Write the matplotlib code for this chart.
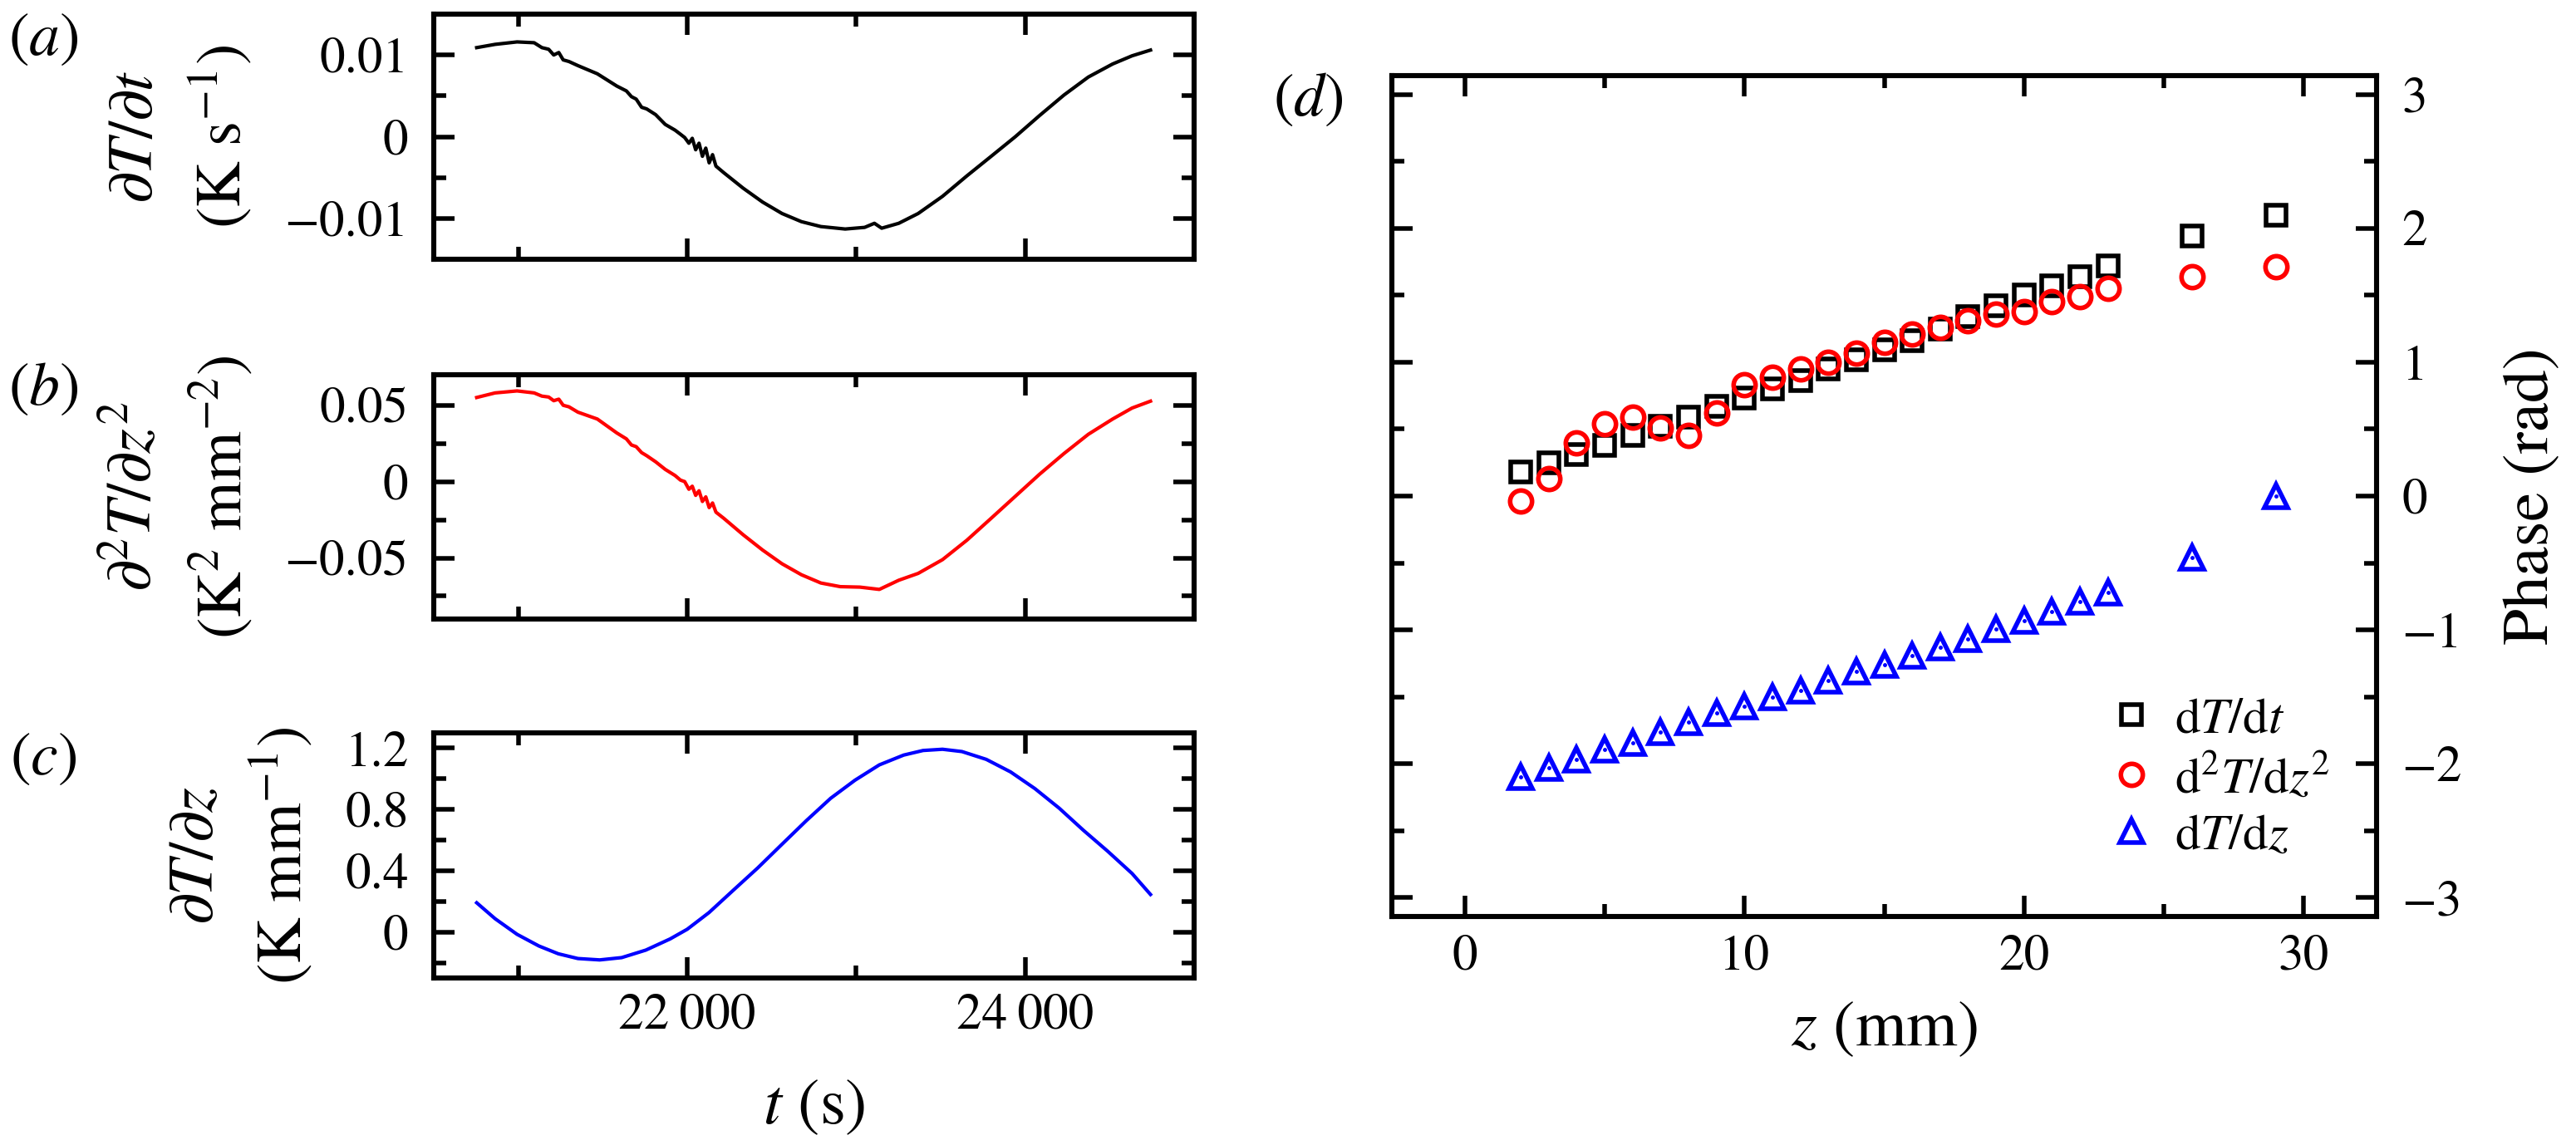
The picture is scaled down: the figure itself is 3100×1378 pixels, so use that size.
import matplotlib
matplotlib.use("Agg")
import matplotlib.pyplot as plt
from matplotlib.ticker import MultipleLocator, FuncFormatter
from matplotlib.lines import Line2D

plt.rcParams['font.family'] = ['STIXGeneral', 'DejaVu Serif']
plt.rcParams['mathtext.fontset'] = 'stix'
plt.rcParams['axes.unicode_minus'] = True

# ---------------- data: panel (a) dT/dt ----------------
t_a = [20754, 20863, 20993, 21094, 21140, 21180, 21210, 21240, 21266, 21300, 21353,
       21468, 21583, 21640, 21670, 21698, 21730, 21760, 21813, 21870, 21928, 21960, 21985,
       22010, 22030, 22050, 22070, 22090, 22110, 22130, 22150, 22170, 22216, 22331, 22446,
       22561, 22676, 22791, 22935, 23050, 23108, 23151, 23252, 23367, 23511, 23655, 23799,
       23942, 24086, 24230, 24374, 24518, 24633, 24742]
v_a = [0.0109, 0.0113, 0.0116, 0.0115, 0.0109, 0.0107, 0.0100, 0.0103, 0.0094, 0.0092, 0.0087,
       0.0077, 0.0062, 0.0056, 0.0049, 0.0046, 0.0036, 0.0034, 0.0027, 0.0015, 0.0008, 0.0003, -0.0001,
       -0.0008, -0.0002, -0.0016, -0.0008, -0.0024, -0.0014, -0.0032, -0.0022, -0.0036, -0.0044, -0.0063, -0.0080,
       -0.0094, -0.0104, -0.0110, -0.0113, -0.0111, -0.0106, -0.0112, -0.0106, -0.0094, -0.0073, -0.0048, -0.0024,
       0.0000, 0.0026, 0.0051, 0.0073, 0.0089, 0.0099, 0.0106]

# ---------------- data: panel (b) d2T/dz2 ----------------
t_b = [20754, 20863, 20993, 21094, 21140, 21180, 21210, 21240, 21266, 21300, 21353,
       21468, 21583, 21640, 21670, 21698, 21730, 21760, 21813, 21870, 21928, 21960, 21985,
       22010, 22030, 22050, 22070, 22090, 22110, 22130, 22150, 22170, 22216, 22331, 22446,
       22561, 22676, 22791, 22906, 23022, 23137, 23252, 23367, 23511, 23655, 23799, 23942,
       24086, 24230, 24374, 24518, 24633, 24742]
v_b = [0.0551, 0.0581, 0.0594, 0.0581, 0.0560, 0.0554, 0.0530, 0.0540, 0.0500, 0.0490, 0.0455,
       0.0410, 0.0319, 0.0280, 0.0240, 0.0229, 0.0190, 0.0170, 0.0130, 0.0080, 0.0040, 0.0010, 0.0000,
       -0.0050, -0.0030, -0.0090, -0.0060, -0.0130, -0.0100, -0.0170, -0.0140, -0.0200, -0.0240, -0.0348, -0.0448,
       -0.0538, -0.0610, -0.0664, -0.0688, -0.0691, -0.0706, -0.0646, -0.0601, -0.0511, -0.0384, -0.0240, -0.0096,
       0.0049, 0.0184, 0.0310, 0.0410, 0.0482, 0.0527]

# ---------------- data: panel (c) dT/dz ----------------
t_c = [20754, 20863, 20993, 21122, 21237, 21353, 21482, 21612, 21755, 21899, 22000,
       22129, 22273, 22417, 22561, 22705, 22849, 22993, 23137, 23281, 23396, 23511,
       23626, 23770, 23914, 24058, 24201, 24345, 24489, 24633, 24742]
v_c = [0.191, 0.087, -0.015, -0.091, -0.142, -0.173, -0.182, -0.167, -0.118, -0.045, 0.018,
       0.127, 0.273, 0.418, 0.573, 0.727, 0.873, 0.991, 1.091, 1.155, 1.185, 1.193,
       1.178, 1.127, 1.045, 0.936, 0.809, 0.664, 0.527, 0.382, 0.245]

# ---------------- data: panel (d) phase ----------------
z_pos = [2, 3, 4, 5, 6, 7, 8, 9, 10, 11, 12, 13, 14, 15, 16, 17, 18, 19, 20, 21, 22, 23, 26, 29]
phase_dTdt = [0.18, 0.25, 0.31, 0.38, 0.45, 0.52, 0.59, 0.67, 0.73, 0.80, 0.86, 0.95,
              1.02, 1.09, 1.16, 1.25, 1.34, 1.42, 1.50, 1.57, 1.64, 1.72, 1.94, 2.10]
phase_d2Tdz2 = [-0.04, 0.13, 0.40, 0.54, 0.59, 0.51, 0.45, 0.62, 0.83, 0.89, 0.95, 1.00,
                1.07, 1.15, 1.21, 1.26, 1.31, 1.36, 1.38, 1.45, 1.49, 1.55, 1.64, 1.71]
phase_dTdz = [-2.10, -2.03, -1.97, -1.89, -1.84, -1.76, -1.69, -1.62, -1.57, -1.50, -1.45, -1.38,
              -1.31, -1.26, -1.19, -1.13, -1.07, -0.99, -0.93, -0.86, -0.79, -0.72, -0.46, 0.00]

legend_labels = [r'd$T$/d$t$', r'd$^2T$/d$z^2$', r'd$T$/d$z$']

W, H = 3100, 1378
fig = plt.figure(figsize=(W / 100, H / 100), dpi=100)

SPW = 4.4
TICK_FS = 44
YLAB_FS = 55
AXLAB_FS = 57
PANEL_FS = 53
MEW = 4.0


def minus(s):
    return s.replace('-', '\u2212')


def style_axes(ax, spw=SPW, maj=18, mnr=11):
    for s in ax.spines.values():
        s.set_linewidth(spw)
    ax.tick_params(which='both', direction='in', top=True, right=True, width=spw * 0.9)
    ax.tick_params(which='major', length=maj)
    ax.tick_params(which='minor', length=mnr)


def box(l, t, r, b):
    return [l / W, 1 - b / H, (r - l) / W, (b - t) / H]


# left panels
left_specs = [
    (box(522, 17, 1437, 312), t_a, v_a, 'black', (-0.015, 0.015), 0.01, 0.005,
     lambda v, p: '0' if abs(v) < 1e-12 else minus(f'{v:g}'),
     r'$\partial T/\partial t$' + '\n' + r'(K s$^{-1}$)', r'($a$)', 49),
    (box(522, 451, 1437, 745), t_b, v_b, 'red', (-0.09, 0.07), 0.05, 0.025,
     lambda v, p: '0' if abs(v) < 1e-12 else minus(f'{v:g}'),
     r'$\partial^2 T/\partial z^2$' + '\n' + r'(K$^2$ mm$^{-2}$)', r'($b$)', 469),
    (box(522, 882, 1437, 1177), t_c, v_c, 'blue', (-0.3, 1.3), 0.4, 0.2,
     lambda v, p: '0' if abs(v) < 1e-12 else minus(f'{v:.1f}'),
     r'$\partial T/\partial z$' + '\n' + r'(K mm$^{-1}$)', r'($c$)', 915),
]

for i, (rect, tx, vy, col, ylim, ymaj, ymin, fmt, ylab, plab, py) in enumerate(left_specs):
    ax = fig.add_axes(rect)
    ax.plot(tx, vy, color=col, lw=3.0)
    ax.set_xlim(20500, 25000)
    ax.set_ylim(*ylim)
    ax.xaxis.set_major_locator(MultipleLocator(2000))
    ax.xaxis.set_minor_locator(MultipleLocator(1000))
    ax.yaxis.set_major_locator(MultipleLocator(ymaj))
    ax.yaxis.set_minor_locator(MultipleLocator(ymin))
    ax.yaxis.set_major_formatter(FuncFormatter(fmt))
    style_axes(ax)
    ax.tick_params(axis='y', labelsize=TICK_FS, pad=22)
    ax.tick_params(axis='x', labelsize=TICK_FS, pad=14)
    ax.set_ylabel(ylab, fontsize=YLAB_FS, labelpad=26, linespacing=1.4)
    if i < 2:
        ax.tick_params(axis='x', labelbottom=False)
    else:
        ax.xaxis.set_major_formatter(FuncFormatter(
            lambda v, p: f'{int(round(v / 1000))}\u2009000'))
        ax.set_xlabel(r'$t$ (s)', fontsize=AXLAB_FS, labelpad=34)
    fig.text(52 / W, 1 - py / H, plab, fontsize=PANEL_FS, ha='center', va='center')

# panel (d)
axd = fig.add_axes(box(1675, 91, 2860, 1103))
axd.plot(z_pos, phase_dTdt, ls='none', marker='s', ms=17, mfc='none', mec='black', mew=MEW)
axd.plot(z_pos, phase_d2Tdz2, ls='none', marker='o', ms=19, mfc='none', mec='red', mew=MEW)
axd.plot(z_pos, phase_dTdz, ls='none', marker='^', ms=20, mfc='none', mec='blue', mew=MEW)
axd.plot(z_pos, phase_dTdz, ls='none', marker='.', ms=5, color='blue')
axd.set_xlim(-2.6, 32.6)
axd.set_ylim(-3.14, 3.14)
axd.xaxis.set_major_locator(MultipleLocator(10))
axd.xaxis.set_minor_locator(MultipleLocator(5))
axd.yaxis.set_major_locator(MultipleLocator(1))
axd.yaxis.set_minor_locator(MultipleLocator(0.5))
axd.yaxis.set_major_formatter(FuncFormatter(lambda v, p: minus(f'{int(round(v))}')))
style_axes(axd)
axd.tick_params(axis='y', labelleft=False, labelright=True, labelsize=TICK_FS, pad=22)
axd.tick_params(axis='x', labelsize=TICK_FS, pad=16)
axd.yaxis.set_label_position('right')
axd.set_ylabel('Phase (rad)', fontsize=AXLAB_FS, labelpad=36)
axd.set_xlabel(r'$z$ (mm)', fontsize=AXLAB_FS, labelpad=18)
fig.text(1574 / W, 1 - 121 / H, r'($d$)', fontsize=PANEL_FS, ha='center', va='center')

handles = [
    Line2D([], [], ls='none', marker='s', ms=17, mfc='none', mec='black', mew=MEW),
    Line2D([], [], ls='none', marker='o', ms=19, mfc='none', mec='red', mew=MEW),
    Line2D([], [], ls='none', marker='^', ms=20, mfc='none', mec='blue', mew=MEW),
]
axd.legend(handles, legend_labels, loc='upper left', bbox_to_anchor=(0.71, 0.285),
           frameon=False, fontsize=TICK_FS, handlelength=0.8, handletextpad=0.45,
           labelspacing=0.2, borderaxespad=0)

fig.savefig('out.png', dpi=100)
